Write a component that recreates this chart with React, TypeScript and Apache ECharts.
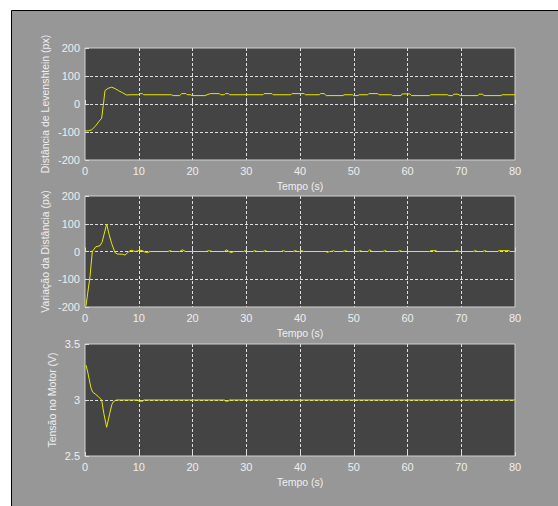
import React, { useEffect, useRef } from "react";
import * as echarts from "echarts";

// Plot 1: Distância de Levenshtein (px)
const levT = [0, 0.6, 1.25, 2.0, 2.6, 3.1, 3.4, 3.72, 4.3, 4.96, 5.6, 6.2, 7.0, 7.75, 8.4, 9.9,
  10.1, 10.7, 10.9, 16.1, 16.4, 17.6, 18.0, 18.8, 19.0, 19.7, 19.9, 22.3, 23.3, 25.0, 25.2, 25.9,
  26.1, 26.7, 26.9, 33.1, 33.3, 34.8, 35.0, 38.3, 38.5, 40.8, 41.0, 43.6, 43.8, 44.5, 44.9, 48.0,
  48.2, 49.8, 50.0, 50.8, 51.0, 52.6, 52.8, 54.5, 54.7, 57.0, 57.2, 58.8, 59.0, 60.4, 60.8, 64.1,
  64.3, 67.5, 67.7, 68.4, 68.6, 69.4, 69.8, 73.1, 73.3, 74.0, 74.2, 77.4, 77.6, 80];
const levV = [-96, -96, -92, -78, -62, -51, -5, 48, 56, 60, 55, 48, 40, 32, 33, 33,
  37, 37, 33, 33, 30, 30, 37, 37, 33, 33, 30, 30, 37, 37, 33, 33,
  37, 37, 33, 33, 37, 37, 33, 33, 37, 37, 33, 33, 37, 37, 30, 30,
  33, 33, 30, 30, 33, 33, 37, 37, 33, 33, 30, 30, 36, 36, 30, 30,
  33, 33, 30, 30, 35, 35, 30, 30, 35, 35, 30, 30, 33, 33];

// Plot 2: Variação da Distância (px)
const varT = [0.19, 0.5, 0.93, 1.36, 2.0, 2.8, 3.2, 4.03, 4.5, 4.96, 5.58, 6.0, 7.0, 7.44, 8.0, 8.56,
  9.3, 9.8, 10.2, 10.7, 11.0, 11.6, 12.1, 15.4, 15.8, 16.2, 17.6, 18.1, 18.7, 22.5, 23.1, 23.7,
  25.9, 26.3, 26.8, 27.2, 27.7, 29.5, 29.8, 30.1, 31.2, 31.6, 32.0, 33.1, 33.5, 33.9, 36.5, 36.9,
  37.3, 38.7, 39.1, 39.5, 39.9, 40.3, 40.7, 44.8, 45.1, 45.5, 45.9, 46.2, 46.5, 47.9, 48.4, 48.9,
  50.8, 51.2, 51.6, 52.6, 53.0, 53.4, 55.4, 55.8, 56.2, 58.2, 58.6, 59.0, 64.1, 64.3, 65.3, 65.5,
  68.8, 69.2, 69.6, 72.2, 72.6, 73.0, 74.0, 74.4, 74.8, 76.8, 77.0, 78.9, 79.1, 80];
const varV = [-196, -150, -91, 0, 17, 21, 35, 99, 60, 29, -4, -9, -10, -13, -3, 5,
  0, 2, 5, 3, -1, -4, 0, 0, 3, 0, 0, 6, 0, 0, 3, 0,
  0, 6, 0, -4, 0, 0, 3, 0, 0, 3, 0, 0, 3, 0, 0, 3,
  0, 0, 3, 0, 0, 3, 0, 0, -3, 0, 0, 3, 0, 0, 3, 0,
  0, 3, 0, 0, 6, 0, 0, 3, 0, 0, 3, 0, 0, 3, 3, 0,
  0, 3, 0, 0, 3, 0, 0, 3, 0, 0, 3, 3, 0, 0];

// Plot 3: Tensão no Motor (V)
const volT = [0.2, 0.5, 0.8, 1.1, 1.43, 2.0, 2.5, 3.1, 3.5, 4.03, 4.6, 5.0, 5.3, 5.8, 7.2, 9.9,
  10.0, 10.8, 10.9, 26.0, 26.1, 26.7, 26.8, 80];
const volV = [3.31, 3.25, 3.18, 3.11, 3.07, 3.05, 3.03, 3.0, 2.88, 2.756, 2.88, 2.96, 2.985, 3.0, 3.0, 3.0,
  2.99, 2.99, 3.0, 3.0, 2.99, 2.99, 3.0, 3.0];

const xTicks = { min: 0, max: 80, interval: 10 };
const yNames = ["Distância de Levenshtein (px)", "Variação da Distância (px)", "Tensão no Motor (V)"];
const yRanges = [
  { min: -200, max: 200, interval: 100 },
  { min: -200, max: 200, interval: 100 },
  { min: 2.5, max: 3.5, interval: 0.5 },
];
const xName = "Tempo (s)";

const FONT = "'Liberation Sans', Arial, sans-serif";
const TEXT = "#eeeeee";
const GRIDLINE = "#dddddd";

export default function App() {
  const ref = useRef<HTMLDivElement>(null);
  useEffect(() => {
    if (!ref.current) return;
    const chart = echarts.init(ref.current, undefined, { renderer: "svg" });
    const tops = [48, 196, 344];
    const heights = [112, 111, 112];
    const nameGaps = [35, 35, 28];
    const datasets = [
      levT.map((t, i) => [t, levV[i]]),
      varT.map((t, i) => [t, varV[i]]),
      volT.map((t, i) => [t, volV[i]]),
    ];
    const option: any = {
      animation: false,
      backgroundColor: "#ffffff",
      textStyle: { fontFamily: FONT },
      graphic: {
        elements: [
          {
            type: "rect",
            z: -100,
            silent: true,
            shape: { x: 11.5, y: 10.5, width: 560, height: 510 },
            style: { fill: "#979797", stroke: "#000000", lineWidth: 1 },
          },
        ],
      },
      grid: tops.map((top, i) => ({
        left: 85,
        top,
        width: 430,
        height: heights[i],
        show: true,
        backgroundColor: "#444444",
        borderColor: "#d0d0d0",
        borderWidth: 1,
      })),
      xAxis: tops.map((_, i) => ({
        type: "value",
        gridIndex: i,
        ...xTicks,
        name: xName,
        nameLocation: "middle",
        nameGap: 20,
        nameMoveOverlap: false,
        nameTextStyle: { color: TEXT, fontSize: 10.5, fontFamily: FONT },
        axisLine: { show: false },
        axisTick: { show: true, inside: true, length: 4, lineStyle: { color: GRIDLINE } },
        axisLabel: { color: TEXT, fontSize: 11, margin: 5, fontFamily: FONT },
        splitLine: {
          show: true,
          showMinLine: false,
          showMaxLine: false,
          lineStyle: { color: GRIDLINE, type: [3, 2], width: 1 },
        },
      })),
      yAxis: tops.map((_, i) => ({
        type: "value",
        gridIndex: i,
        ...yRanges[i],
        name: yNames[i],
        nameLocation: "middle",
        nameRotate: 90,
        nameGap: nameGaps[i],
        nameMoveOverlap: false,
        nameTextStyle: { color: TEXT, fontSize: 10.5, fontFamily: FONT },
        axisLine: { show: false },
        axisTick: { show: true, inside: true, length: 4, lineStyle: { color: GRIDLINE } },
        axisLabel: { color: TEXT, fontSize: 11, margin: 5, fontFamily: FONT },
        splitLine: {
          show: true,
          showMinLine: false,
          showMaxLine: false,
          lineStyle: { color: GRIDLINE, type: [3, 2], width: 1 },
        },
      })),
      series: datasets.map((data, i) => ({
        type: "line",
        xAxisIndex: i,
        yAxisIndex: i,
        data,
        showSymbol: false,
        symbol: "none",
        clip: true,
        lineStyle: { color: "#e8e800", width: 1 },
      })),
    };
    chart.setOption(option);
    return () => chart.dispose();
  }, []);
  return (
    <div
      ref={ref}
      style={{ position: "fixed", left: 0, top: 0, width: 558, height: 506 }}
    />
  );
}
